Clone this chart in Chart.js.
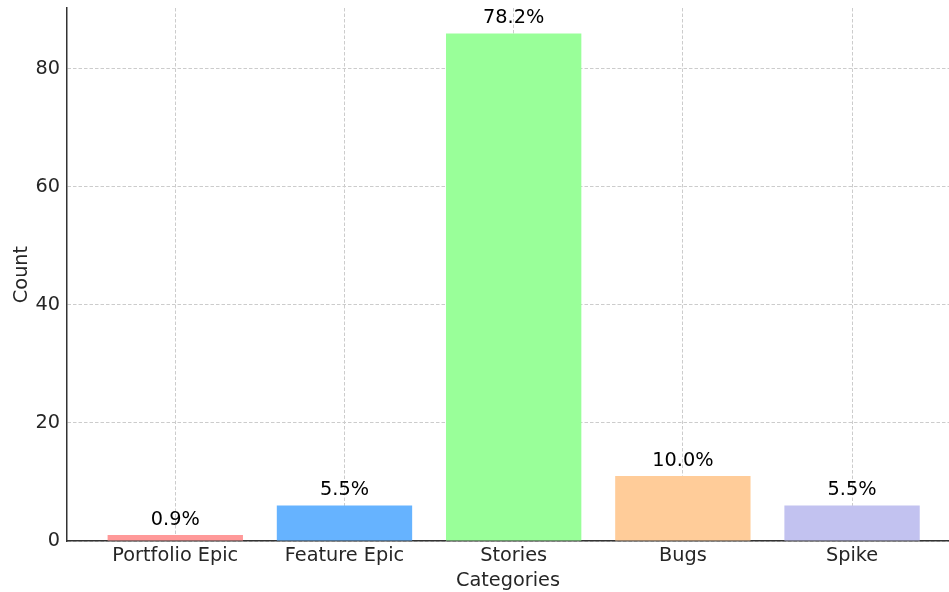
<!DOCTYPE html>
<html>
<head>
<meta charset="utf-8">
<script src="https://cdn.jsdelivr.net/npm/chart.js@4/dist/chart.umd.min.js"></script>
<style>
  html, body { margin: 0; padding: 0; background: #fff; }
  #wrap { width: 949px; height: 592px; }
</style>
</head>
<body>
<div id="wrap"><canvas id="countChart"></canvas></div>
<script>
const categories = ['Portfolio Epic', 'Feature Epic', 'Stories', 'Bugs', 'Spike'];
const counts = [1, 6, 86, 11, 6];
const barColors = ['#ff9999', '#66b3ff', '#99ff99', '#ffcc99', '#c2c2f0'];
const yTicks = [0, 20, 40, 60, 80];

const total = counts.reduce((a, b) => a + b, 0);
const FONT = 'DejaVu Sans';
const SIZE = 19.3;

// percentage above each bar, placed one unit above its top
const percentLabels = {
  id: 'percentLabels',
  afterDatasetsDraw(chart) {
    const { ctx, scales } = chart;
    ctx.save();
    ctx.font = SIZE + 'px "' + FONT + '"';
    ctx.fillStyle = '#000';
    ctx.textAlign = 'center';
    ctx.textBaseline = 'alphabetic';
    counts.forEach((c, i) => {
      const x = scales.x.getPixelForValue(i);
      const y = scales.y.getPixelForValue(c + 1) - 4.5;
      ctx.fillText((c / total * 100).toFixed(1) + '%', x, y);
    });
    ctx.restore();
  }
};

const grid = { color: '#cccccc', lineWidth: 1, drawTicks: false, offset: false };
const border = { display: true, color: '#333', width: 1.5, dash: [3.5, 2] };

new Chart(document.getElementById('countChart'), {
  type: 'bar',
  data: {
    datasets: [{
      data: counts.map((c, i) => ({ x: i, y: c })),
      backgroundColor: barColors,
      borderWidth: 0,
      barPercentage: 1,
      categoryPercentage: 0.8
    }]
  },
  options: {
    responsive: true,
    maintainAspectRatio: false,
    animation: false,
    layout: { padding: { top: 8, right: 0, left: 0, bottom: 0 } },
    plugins: { legend: { display: false }, tooltip: { enabled: false } },
    scales: {
      x: {
        type: 'linear',
        offset: false,
        min: -0.64,
        max: 4.573,
        afterBuildTicks: s => { s.ticks = categories.map((_, i) => ({ value: i })); },
        afterFit: s => { s.height = 51; s.paddingLeft = 0; s.paddingRight = 0; },
        grid: grid,
        border: border,
        ticks: {
          autoSkip: false,
          maxRotation: 0,
          padding: 3,
          color: '#262626',
          font: { family: FONT, size: SIZE },
          callback: v => categories[v]
        },
        title: {
          display: true,
          text: 'Categories',
          color: '#262626',
          font: { family: FONT, size: SIZE },
          padding: -1
        }
      },
      y: {
        min: 0,
        max: 90.3,
        afterBuildTicks: s => { s.ticks = yTicks.map(v => ({ value: v })); },
        afterFit: s => { s.width = 67; s.paddingTop = 0; s.paddingBottom = 0; },
        grid: grid,
        border: border,
        ticks: {
          padding: 7,
          color: '#262626',
          font: { family: FONT, size: SIZE }
        },
        title: {
          display: true,
          text: 'Count',
          color: '#262626',
          font: { family: FONT, size: SIZE },
          padding: 10
        }
      }
    }
  },
  plugins: [percentLabels]
});
</script>
</body>
</html>
